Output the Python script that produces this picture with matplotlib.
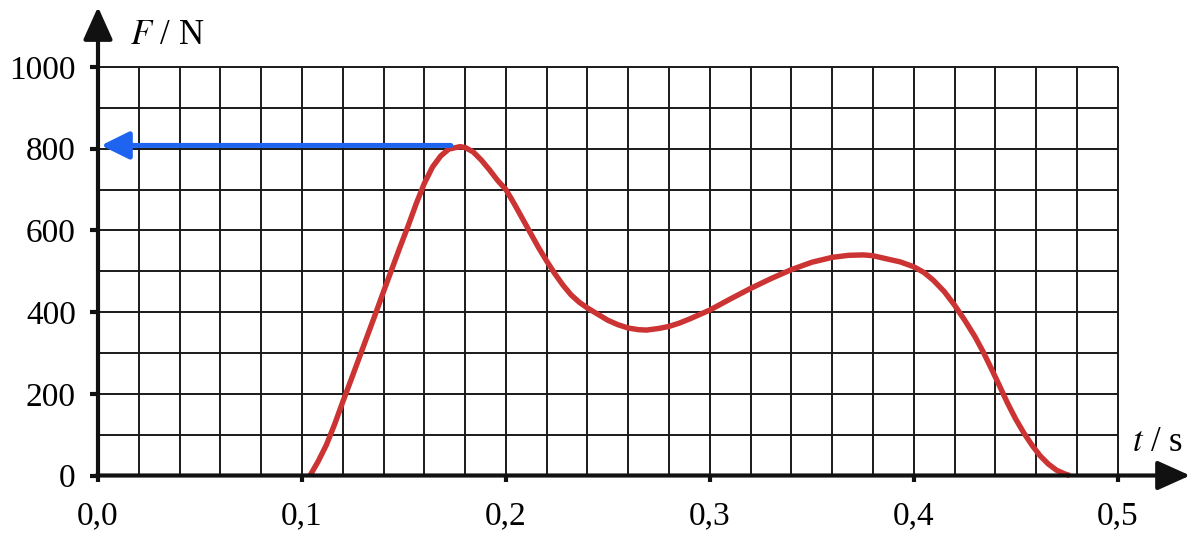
import matplotlib
matplotlib.use("Agg")
import matplotlib.pyplot as plt
import numpy as np

# Data
t_vals = [0.104, 0.108, 0.112, 0.116, 0.120, 0.124, 0.128, 0.132, 0.136,
          0.140, 0.144, 0.148, 0.152, 0.156, 0.160, 0.164, 0.168, 0.172,
          0.1775, 0.180, 0.184, 0.188, 0.192, 0.196, 0.200, 0.204, 0.208,
          0.212, 0.216, 0.220, 0.224, 0.228, 0.232, 0.236, 0.240, 0.245,
          0.250, 0.255, 0.260, 0.265, 0.269, 0.275, 0.280, 0.285, 0.290,
          0.295, 0.300, 0.310, 0.320, 0.330, 0.340, 0.350, 0.360, 0.368,
          0.3753, 0.380, 0.387, 0.3933, 0.400, 0.405, 0.4096, 0.415, 0.420,
          0.425, 0.430, 0.434, 0.438, 0.442, 0.446, 0.450, 0.454, 0.458,
          0.462, 0.466, 0.470, 0.474, 0.4765]
F_vals = [0, 35, 75, 125, 180, 233, 287, 341, 395,
          450, 504, 558, 610, 665, 715, 755, 782, 799,
          805, 803, 792, 772, 748, 722, 700, 666, 630,
          594, 558, 525, 494, 466, 442, 424, 410, 395,
          380, 369, 361, 357, 356, 360, 365, 373, 383,
          394, 405, 432, 458, 482, 504, 522, 534, 539,
          540, 538, 530, 523, 511, 497, 478, 450, 417,
          380, 340, 303, 262, 220, 177, 138, 104, 74,
          48, 28, 13, 4, 0]

peak_F = 808
arrow_start_t = 0.173

x_ticks = [0.0, 0.1, 0.2, 0.3, 0.4, 0.5]
x_ticklabels = ["0,0", "0,1", "0,2", "0,3", "0,4", "0,5"]
y_ticks = [0, 200, 400, 600, 800, 1000]
y_ticklabels = ["0", "200", "400", "600", "800", "1000"]

plt.rcParams['font.family'] = ['Liberation Serif', 'DejaVu Serif']
plt.rcParams['mathtext.fontset'] = 'stix'

fig = plt.figure(figsize=(12, 5.38), dpi=100)
ax = fig.add_axes([98/1200, 1 - 475.5/538, (1117.7 - 98)/1200, (475.5 - 67)/538])
ax.set_xlim(0, 0.5)
ax.set_ylim(0, 1000)

# grid
grid_x = np.arange(0.02, 0.5001, 0.02)
grid_y = np.arange(100, 1000.1, 100)
ax.vlines(grid_x, 0, 1000, colors='#1a1a1a', linewidth=1.4, zorder=1, clip_on=False)
ax.hlines(grid_y, 0, 0.5, colors='#1a1a1a', linewidth=1.4, zorder=1, clip_on=False)

for s in ax.spines.values():
    s.set_visible(False)

# axes with arrows
ax.annotate('', xy=(0, 1147), xytext=(0, -3),
            arrowprops=dict(arrowstyle='-|>,head_length=1.0,head_width=0.45',
                            mutation_scale=20, lw=3, color='#111111',
                            shrinkA=0, shrinkB=0), annotation_clip=False, zorder=5)
ax.annotate('', xy=(0.5355, 0), xytext=(-0.0008, 0),
            arrowprops=dict(arrowstyle='-|>,head_length=1.0,head_width=0.45',
                            mutation_scale=20, lw=3, color='#111111',
                            shrinkA=0, shrinkB=0), annotation_clip=False, zorder=5)

# curve
ax.plot(t_vals, F_vals, color='#cc3333', linewidth=3.9, solid_capstyle='butt',
        solid_joinstyle='round', zorder=4, clip_on=False)

# blue arrow
ax.annotate('', xy=(0.0015, peak_F), xytext=(arrow_start_t, peak_F),
            arrowprops=dict(arrowstyle='-|>,head_length=0.85,head_width=0.42',
                            mutation_scale=20, lw=3.6, color='#1e64f0',
                            shrinkA=0, shrinkB=0), annotation_clip=False, zorder=6)

ax.set_xticks(x_ticks)
ax.set_xticklabels(x_ticklabels)
ax.set_yticks(y_ticks)
ax.set_yticklabels(y_ticklabels)
ax.tick_params(axis='x', direction='out', length=4, width=3, pad=14,
               labelsize=24, color='#111111')
ax.tick_params(axis='y', direction='out', length=6, width=3, pad=10,
               labelsize=24, color='#111111')

ax.text(0.0155, 1078, r'$F$ / N', fontsize=25, ha='left', va='center', clip_on=False)
ax.text(0.5072, 80, r'$t$ / s', fontsize=25, ha='left', va='center', clip_on=False)

fig.savefig('out.png', dpi=100, facecolor='white')
